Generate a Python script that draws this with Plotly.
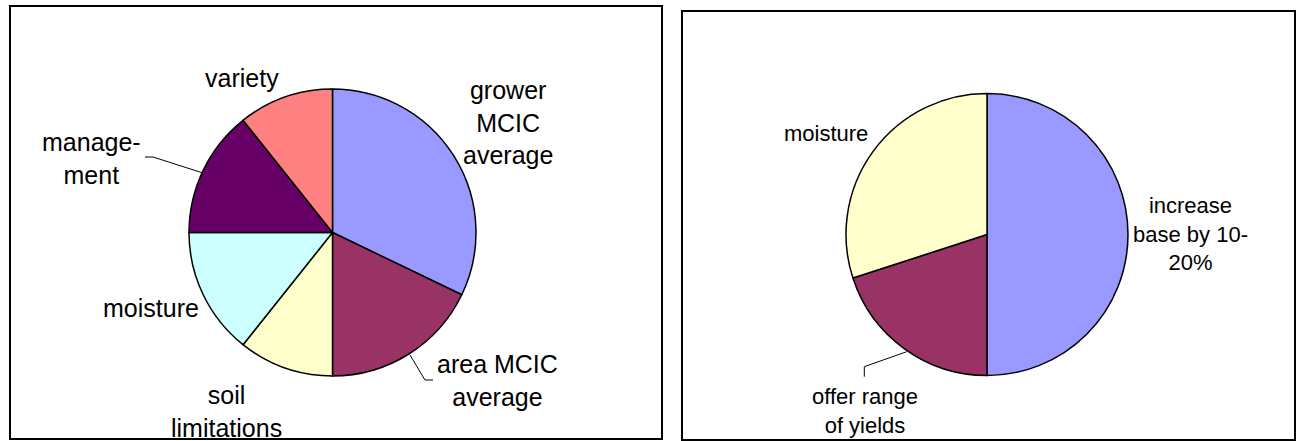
import plotly.graph_objects as go

W, H = 1296, 441

# Left pie: factors behind the yield figure
left_labels = ["grower MCIC average", "area MCIC average", "soil limitations",
               "moisture", "management", "variety"]
left_values = [9, 5, 3, 4, 4, 3]
left_colors = ["#9999FF", "#993366", "#FFFFCC", "#CCFFFF", "#660066", "#FF8080"]
left_text = ["grower<br>MCIC<br>average", "area MCIC<br>average", "soil<br>limitations",
             "moisture", "manage-<br>ment", "variety"]

# Right pie: suggested adjustments
right_labels = ["increase base by 10-20%", "offer range of yields", "moisture"]
right_values = [5, 2, 3]
right_colors = ["#9999FF", "#993366", "#FFFFCC"]
right_text = ["increase<br>base by 10-<br>20%", "offer range<br>of yields", "moisture"]


def px(x):
    return x / W


def py(y):
    return 1 - y / H


def pie_domain(cx, cy, r):
    return dict(x=[px(cx - r), px(cx + r)], y=[py(cy + r), py(cy - r)])


fig = go.Figure()
fig.add_trace(go.Pie(
    labels=left_labels, values=left_values, sort=False, direction="clockwise",
    rotation=0, textinfo="none", hoverinfo="label+percent", showlegend=False,
    marker=dict(colors=left_colors, line=dict(color="black", width=1.5)),
    domain=pie_domain(332.5, 232.5, 143.5),
))
fig.add_trace(go.Pie(
    labels=right_labels, values=right_values, sort=False, direction="clockwise",
    rotation=0, textinfo="none", hoverinfo="label+percent", showlegend=False,
    marker=dict(colors=right_colors, line=dict(color="black", width=1.5)),
    domain=pie_domain(987, 234.5, 141),
))

# chart frames
shapes = [
    dict(type="rect", xref="paper", yref="paper", x0=px(10), x1=px(662), y0=py(439), y1=py(6),
         line=dict(color="black", width=2), fillcolor="rgba(0,0,0,0)"),
    dict(type="rect", xref="paper", yref="paper", x0=px(682), x1=px(1295), y0=py(440), y1=py(11),
         line=dict(color="black", width=2), fillcolor="rgba(0,0,0,0)"),
]


def leader(points):
    path = "M " + " L ".join(f"{px(x)},{py(y)}" for x, y in points)
    return dict(type="path", xref="paper", yref="paper", path=path,
                line=dict(color="black", width=1))


shapes.append(leader([(145, 157), (153, 157), (203, 173)]))
shapes.append(leader([(410, 355), (425, 380), (433, 380)]))
shapes.append(leader([(906.7, 351.7), (864.3, 366.7), (864.3, 376.7)]))

left_pos = [(508, 123), (497.5, 380), (226.5, 411), (150.5, 308), (91, 159), (241.5, 78)]
right_pos = [(1190, 234), (865, 411), (826.3, 133)]

annotations = []
for text, (x, y) in zip(left_text, left_pos):
    annotations.append(dict(text=text, x=px(x), y=py(y), xref="paper", yref="paper",
                            xanchor="center", yanchor="middle", showarrow=False,
                            font=dict(family="Liberation Sans, Arial", size=25, color="black")))
for text, (x, y) in zip(right_text, right_pos):
    annotations.append(dict(text=text, x=px(x), y=py(y), xref="paper", yref="paper",
                            xanchor="center", yanchor="middle", showarrow=False,
                            font=dict(family="Liberation Sans, Arial", size=22, color="black")))

fig.update_layout(
    width=W, height=H, margin=dict(l=0, r=0, t=0, b=0),
    paper_bgcolor="white", plot_bgcolor="white",
    shapes=shapes, annotations=annotations,
)

fig.write_html("out.html")
